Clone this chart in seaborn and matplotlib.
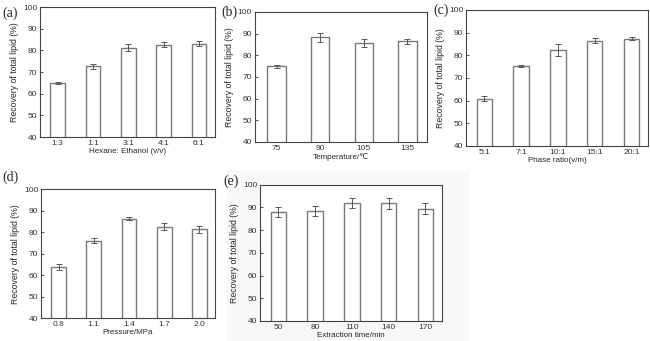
import numpy as np
import pandas as pd
import seaborn as sns
import matplotlib.pyplot as plt

# valores
hex_cat = ["1:3", "1:1", "3:1", "4:1", "6:1"]
hex_val = [64.8, 72.6, 81.3, 82.7, 83.1]
hex_err = [0.5, 1.3, 1.7, 1.1, 1.1]

temp_cat = ["75", "90", "105", "135"]
temp_val = [74.9, 88.2, 85.5, 86.5]
temp_err = [0.7, 1.9, 1.9, 1.2]

phase_cat = ["5:1", "7:1", "10:1", "15:1", "20:1"]
phase_val = [60.9, 75.2, 82.2, 86.5, 87.3]
phase_err = [1.2, 0.3, 2.6, 1.2, 0.6]

press_cat = ["0.8", "1.1", "1.4", "1.7", "2.0"]
press_val = [63.9, 76.1, 86.3, 82.6, 81.3]
press_err = [1.4, 1.0, 0.7, 1.6, 1.7]

time_cat = ["50", "80", "110", "140", "170"]
time_val = [88.0, 88.4, 92.0, 91.8, 89.5]
time_err = [2.2, 2.1, 2.2, 2.3, 2.3]

sns.set_style("ticks")
plt.rcParams['font.family'] = ['Liberation Sans', 'DejaVu Sans']

fig = plt.figure(figsize=(6.5, 3.41), dpi=100)

# fundo levemente cinza da digitalização no painel (e)
fig.patches.append(plt.Rectangle((0.35, 0.0), 0.37, 0.5, transform=fig.transFigure,
                                 color="#f8f8f8", zorder=-10))

paineis = [
    ("(a)", hex_cat, hex_val, hex_err, "Hexane: Ethanol (v/v)", [0.0615, 0.598, 0.269, 0.381], (0.003, 0.962)),
    ("(b)", temp_cat, temp_val, temp_err, "Temperature/\u2103", [0.392, 0.584, 0.265, 0.381], (0.341, 0.965)),
    ("(c)", phase_cat, phase_val, phase_err, "Phase ratio(v/m)", [0.717, 0.572, 0.28, 0.399], (0.667, 0.971)),
    ("(d)", press_cat, press_val, press_err, "Pressure/MPa", [0.063, 0.067, 0.268, 0.378], (0.003, 0.48)),
    ("(e)", time_cat, time_val, time_err, "Extraction time/min", [0.4, 0.059, 0.28, 0.399], (0.343, 0.467)),
]

for letra, cat, val, err, xlabel, pos, lpos in paineis:
    ax = fig.add_axes(pos)
    df = pd.DataFrame({"cat": cat, "val": val})
    sns.barplot(data=df, x="cat", y="val", ax=ax, color="white",
                edgecolor="#7a7a7a", linewidth=1.0, width=0.42, errorbar=None)
    ax.errorbar(np.arange(len(cat)), val, yerr=err, fmt="none",
                ecolor="#555555", elinewidth=0.7, capsize=2, capthick=0.7)
    ax.set_ylim(40, 100)
    ax.set_xlim(-0.5, len(cat) - 0.55)
    ax.set_yticks([40, 50, 60, 70, 80, 90, 100])
    ax.set_xlabel(xlabel, fontsize=5.8, labelpad=1)
    ax.set_ylabel("Recovery of total lipid (%)", fontsize=6.3, labelpad=3)
    ax.tick_params(direction="in", length=2, width=0.6, labelsize=6, pad=2, colors="#333333")
    ax.tick_params(axis="x", length=0)
    for s in ax.spines.values():
        s.set_linewidth(0.8)
        s.set_color("#444444")
    fig.text(lpos[0], lpos[1], letra, fontsize=10, family="Liberation Serif", va="center")

plt.savefig("out.png", dpi=100)
